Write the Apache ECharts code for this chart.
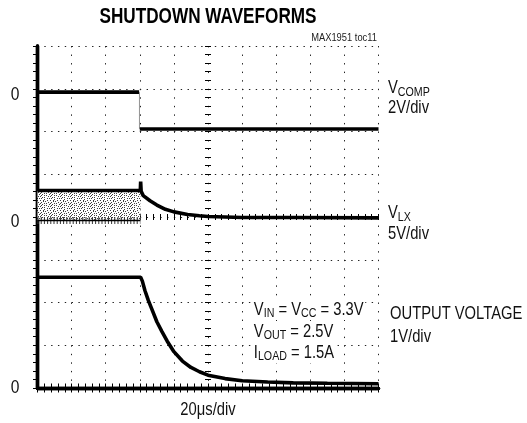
<!DOCTYPE html>
<html><head><meta charset="utf-8">
<script src="https://cdn.jsdelivr.net/npm/echarts@6/dist/echarts.min.js"></script>
<style>html,body{margin:0;padding:0;background:#fff}#c{width:527px;height:423px}</style>
</head><body><div id="c"></div>
<script>
// Time in microseconds (20 us/div); trace level in screen divisions (0 = bottom graticule line, 8 = top)
const vcompHighT = [0, 59.6];
const vcompHighV = [6.92, 6.92];
const vcompEdgeT = [59.8, 59.8];
const vcompEdgeV = [6.92, 6.06];
const vcompLowT = [60.0, 200];
const vcompLowV = [6.06, 6.06];

const vlxPreT = [0, 60.3];
const vlxHighV = [4.62, 4.62];
const vlxLowV = [3.92, 3.92];
const vlxPostT = [60.3, 60.5, 60.8, 62, 66, 70, 75, 80, 88, 95, 100, 120, 150, 200];
const vlxPostV = [4.62, 4.83, 4.60, 4.50, 4.38, 4.28, 4.18, 4.12, 4.06, 4.03, 4.01, 3.99, 3.99, 3.98];

const outT = [0, 60.5, 61.5, 63, 65, 67, 70, 73, 76, 80, 85, 90, 95, 100, 110, 120, 135, 150, 170, 200];
const outV = [2.59, 2.59, 2.50, 2.28, 2.05, 1.85, 1.55, 1.32, 1.10, 0.85, 0.63, 0.48, 0.38, 0.30, 0.22, 0.17, 0.14, 0.12, 0.11, 0.10];

const zeroMarkDiv = [6.85, 3.88, 0];
const channelLabels = [
  {main: 'V', sub: 'COMP', scale: '2V/div'},
  {main: 'V', sub: 'LX', scale: '5V/div'},
  {main: 'OUTPUT VOLTAGE', sub: '', scale: '1V/div'}
];
const conditions = [['V', 'IN', ' = V', 'CC', ' = 3.3V'], ['V', 'OUT', ' = 2.5V'], ['I', 'LOAD', ' = 1.5A']];
const titleText = 'SHUTDOWN WAVEFORMS';
const figureId = 'MAX1951 toc11';
const timeBase = '20\u03bcs/div';

const xMin = 0, xMax = 200, xStep = 20;
const yMin = 0, yMax = 8, yStep = 1;

const FONT = '"Liberation Sans", Arial, sans-serif';
const SQ = 0.82; // horizontal squeeze to mimic a condensed face
const zip = (a, b) => a.map((v, i) => [v, b[i]]);

function stipple() {
  const rows = [
    '#..#...#..',
    '...#.#....',
    '.#......#.',
    '#...#.#...',
    '..#......#',
    '.#..#.#...',
    '#.......#.',
    '..#.#.....',
    '.#.....#.#',
    '....#.....'
  ];
  const c = document.createElement('canvas');
  c.width = 10; c.height = 10;
  const g = c.getContext('2d');
  g.fillStyle = '#fff'; g.fillRect(0, 0, 10, 10);
  g.fillStyle = '#404040';
  rows.forEach((r, y) => [...r].forEach((ch, x) => { if (ch === '#') g.fillRect(x, y, 1, 1); }));
  return c;
}

const chart = echarts.init(document.getElementById('c'), null, {renderer: 'canvas'});
const G = {left: 37.5, top: 46, right: 148.5, bottom: 35};
const gw = 527 - G.left - G.right, gh = 423 - G.top - G.bottom;
const divW = gw / 10, divH = gh / 8;

const frameLine = {show: true, lineStyle: {color: '#000', width: 3.4}};
const noLabel = {show: false};
const tickIn = {show: true, inside: true, length: 4.5, lineStyle: {color: '#000', width: 1}};
const minorIn = {show: true, splitNumber: 5, length: 4.5, lineStyle: {color: '#000', width: 1}};
const cTickIn = {show: true, inside: true, length: 3, lineStyle: {color: '#000', width: 1}};
const cTickOut = {show: true, inside: false, length: 3, lineStyle: {color: '#000', width: 1}};
const cMinor = {show: true, splitNumber: 5, length: 3, lineStyle: {color: '#000', width: 1}};

const baseX = {type: 'value', min: xMin, max: xMax, interval: xStep, axisLabel: noLabel, splitLine: {show: false}};
const baseY = {type: 'value', min: yMin, max: yMax, interval: yStep, axisLabel: noLabel, splitLine: {show: false}};

const trace = {color: '#000', width: 3.6};

const option = {
  animation: false,
  backgroundColor: '#fff',
  grid: Object.assign({outerBoundsMode: 'none', containLabel: false}, G),
  xAxis: [
    Object.assign({}, baseX, {
      position: 'bottom', axisLine: frameLine, axisTick: tickIn, minorTick: minorIn,
      splitLine: {show: true, lineStyle: {color: '#222', width: 1, type: [1.4, divH / 5 - 1.4]}}
    }),
    Object.assign({}, baseX, {position: 'top', axisLine: frameLine, axisTick: tickIn, minorTick: minorIn}),
    Object.assign({}, baseX, {position: 'bottom', offset: -4 * divH, axisLine: {show: false}, axisTick: cTickIn, minorTick: cMinor}),
    Object.assign({}, baseX, {position: 'bottom', offset: -4 * divH, axisLine: {show: false}, axisTick: cTickOut, minorTick: cMinor})
  ],
  yAxis: [
    Object.assign({}, baseY, {
      position: 'left', axisLine: frameLine, axisTick: {show: false},
      splitLine: {show: true, lineStyle: {color: '#222', width: 1, type: [1.4, divW / 5 - 1.4]}}
    }),
    Object.assign({}, baseY, {position: 'right', axisLine: frameLine, axisTick: tickIn, minorTick: minorIn}),
    Object.assign({}, baseY, {position: 'left', offset: -5 * divW, axisLine: {show: false}, axisTick: cTickIn, minorTick: cMinor}),
    Object.assign({}, baseY, {position: 'left', offset: -5 * divW, axisLine: {show: false}, axisTick: cTickOut, minorTick: cMinor})
  ],
  series: [
    {name: 'VLX switching band', type: 'line', data: zip(vlxPreT, vlxHighV), symbol: 'none', z: 2,
     lineStyle: {width: 0}, areaStyle: {origin: 3.92, opacity: 1, color: {image: stipple(), repeat: 'repeat'}}},
    {name: 'VLX high', type: 'line', data: zip(vlxPreT, vlxHighV), symbol: 'none', z: 3, lineStyle: trace},
    {name: 'VLX low spikes', type: 'line', data: zip(vlxPreT, vlxLowV), symbol: 'none', z: 3,
     lineStyle: {color: '#333', width: 7, type: [1, 2.2]}},
    {name: 'VLX low', type: 'line', data: zip(vlxPreT, vlxLowV), symbol: 'none', z: 3, lineStyle: {color: '#000', width: 1.5}},
    {name: 'VLX after', type: 'line', data: zip(vlxPostT, vlxPostV), symbol: 'none', z: 3, lineStyle: trace},
    {name: 'VCOMP high', type: 'line', data: zip(vcompHighT, vcompHighV), symbol: 'none', z: 3, lineStyle: trace},
    {name: 'VCOMP edge', type: 'line', data: zip(vcompEdgeT, vcompEdgeV), symbol: 'none', z: 3, lineStyle: {color: '#777', width: 0.8}},
    {name: 'VCOMP low', type: 'line', data: zip(vcompLowT, vcompLowV), symbol: 'none', z: 3, lineStyle: trace},
    {name: 'Output voltage', type: 'line', data: zip(outT, outV), symbol: 'none', z: 3, lineStyle: trace}
  ]
};
chart.setOption(option);

const px = (x, y) => chart.convertToPixel({gridIndex: 0}, [x, y]);
const txt = (x, y, text, size, opt) => Object.assign({
  type: 'text', x: x, y: y, z: 10, scaleX: SQ,
  style: Object.assign({text: text, align: 'left', verticalAlign: 'middle', fontFamily: FONT, fontSize: size, fill: '#111'}, (opt && opt.style) || {})
}, (opt && opt.el) || {});

const graphics = [];
graphics.push(txt(208, 17, titleText, 22, {el: {scaleX: 0.78}, style: {align: 'center', fontWeight: 'bold', fill: '#000'}}));
graphics.push(txt(377, 38, figureId, 11, {el: {scaleX: 0.85}, style: {align: 'right', fill: '#222'}}));
graphics.push(txt(208, 410, timeBase, 18, {style: {align: 'center'}}));
zeroMarkDiv.forEach(v => {
  const p = px(xMin, v);
  graphics.push(txt(15, p[1], '0', 19, {style: {align: 'center'}}));
});
const rich = {
  m: {fontFamily: FONT, fontSize: 18, fill: '#111', lineHeight: 20},
  s: {fontFamily: FONT, fontSize: 13, fill: '#111', lineHeight: 20, verticalAlign: 'bottom'}
};
const labelY = [[88.5, 108.5], [213.5, 234], [314, 337.5]];
const labelX = [388, 388, 390];
channelLabels.forEach((c, i) => {
  const t = '{m|' + c.main + '}' + (c.sub ? '{s|' + c.sub + '}' : '');
  graphics.push(txt(labelX[i], labelY[i][0], t, 18, {style: {rich: rich}}));
  graphics.push(txt(labelX[i], labelY[i][1], c.scale, 18));
});
const condY = [310, 331.7, 353.4];
conditions.forEach((parts, i) => {
  const t = parts.map((s, k) => '{' + (k % 2 ? 's' : 'm') + '|' + s + '}').join('');
  graphics.push(txt(253, condY[i], t, 18, {style: {rich: rich, backgroundColor: '#fff', padding: [0, 2, 0, 1]}}));
});
chart.setOption({graphic: graphics});
</script>
</body></html>
